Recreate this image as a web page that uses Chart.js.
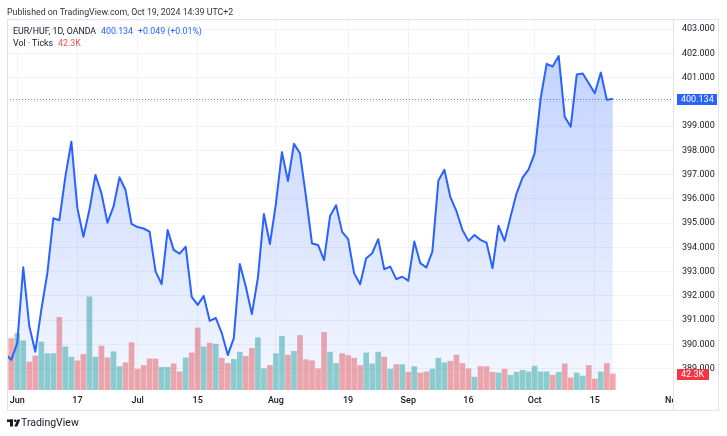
<!DOCTYPE html>
<html>
<head>
<meta charset="utf-8">
<script src="https://cdn.jsdelivr.net/npm/chart.js@4.4.1/dist/chart.umd.min.js"></script>
<style>
  html, body { margin: 0; padding: 0; background: #fff; }
  #wrap { position: relative; width: 727px; height: 436px; font-family: Roboto, "Liberation Sans", sans-serif; }
  #c { position: absolute; left: 0; top: 0; }
  .t { position: absolute; white-space: nowrap; font-size: 8.8px; line-height: 12px; }
</style>
</head>
<body>
<div id="wrap">
  <canvas id="c" width="727" height="436"></canvas>
  <div class="t" style="left:7px;top:6px;color:#333">Published on TradingView.com, Oct 19, 2024 14:39 UTC+2</div>
  <div class="t" style="left:13px;top:25px;color:#131722">EUR/HUF, 1D, OANDA</div>
  <div class="t" style="left:101px;top:25px;color:#2962ff">400.134</div>
  <div class="t" style="left:138px;top:25px;color:#2962ff">+0.049 (+0.01%)</div>
  <div class="t" style="left:13px;top:37px;color:#131722">Vol · Ticks</div>
  <div class="t" style="left:58px;top:37px;color:#ef5350">42.3K</div>
  <div class="t" style="left:21px;top:417px;color:#131722;font-size:10.5px">TradingView</div>
</div>
<script>
// EUR/HUF daily closes, 30 May 2024 -> 18 Oct 2024 (trading days)
const firstDay = '2024-05-30';
const closes = [389.62,
  389.36, 390.05, 393.18, 390.76, 389.70, 391.42, 392.93, 395.20, 395.12, 396.92,
  398.36, 395.62, 394.44, 395.55, 396.99, 396.23, 395.02, 395.68, 396.89, 396.37,
  394.97, 394.84, 394.78, 394.65, 393.00, 392.49, 394.72, 393.90, 393.74, 394.03,
  391.96, 391.63, 392.00, 390.97, 391.09, 390.47, 389.56, 390.26, 393.32, 392.38,
  391.25, 392.74, 395.38, 394.14, 395.82, 397.93, 396.74, 398.27, 397.88, 396.09,
  394.16, 394.10, 393.48, 395.30, 395.74, 394.64, 394.34, 392.93, 392.48, 393.55,
  393.76, 394.34, 393.10, 393.21, 392.69, 392.79, 392.63, 394.24, 393.35, 393.17,
  393.83, 396.75, 397.20, 396.07, 395.50, 394.72, 394.27, 394.51, 394.31, 394.20,
  393.14, 394.89, 394.27, 395.27, 396.23, 396.88, 397.22, 397.88, 400.15, 401.57,
  401.46, 401.89, 399.39, 398.98, 401.13, 401.17, 400.77, 400.36, 401.21, 400.085,
  400.134];

// volume in thousands of ticks
const volumes = [null,
  136, 149, 130, 74, 90, 127, 96, 96, 192, 114,
  87, 77, 94, 246, 87, 116, 85, 101, 62, 72,
  125, 55, 65, 82, 82, 60, 60, 69, 48, 85,
  98, 164, 114, 124, 121, 84, 70, 81, 100, 89,
  110, 138, 56, 65, 96, 142, 92, 102, 144, 80,
  77, 56, 152, 100, 70, 96, 91, 84, 65, 98,
  69, 100, 87, 55, 67, 67, 47, 62, 45, 48,
  55, 84, 72, 76, 92, 70, 56, 34, 62, 62,
  47, 45, 55, 39, 47, 52, 48, 63, 48, 48,
  39, 47, 69, 32, 45, 37, 65, 29, 48, 70,
  42.3];

// u = up bar (green), d = down bar (red)
const volDir = ['d',
  'd','u','u','d','d','u','u','u','d','u',
  'u','d','d','u','u','d','d','u','u','d',
  'd','d','d','d','d','u','u','d','d','u',
  'd','d','u','d','u','d','d','u','u','d',
  'd','u','u','d','u','u','d','u','d','d',
  'd','d','d','u','u','d','d','d','d','u',
  'u','u','d','u','d','u','d','u','d','d',
  'u','u','u','d','d','d','d','u','d','d',
  'd','u','d','u','u','u','u','u','u','u',
  'd','u','d','d','u','u','d','d','u','d',
  'd'];

const tickDates = ['2024-06-03', '2024-06-17', '2024-07-01', '2024-07-15', '2024-08-01', '2024-08-19',
                   '2024-09-02', '2024-09-16', '2024-10-01', '2024-10-15', '2024-11-01'];
const tickText  = ['Jun', '17', 'Jul', '15', 'Aug', '19', 'Sep', '16', 'Oct', '15', 'Nov'];

const lastClose = 400.134;
const lastVol = '42.3K';

// trading day calendar (weekdays)
function tradingDays(start, n) {
  const out = [];
  const d = new Date(start + 'T12:00:00Z');
  while (out.length < n) {
    const wd = d.getUTCDay();
    if (wd !== 0 && wd !== 6) out.push(d.toISOString().slice(0, 10));
    d.setUTCDate(d.getUTCDate() + 1);
  }
  return out;
}
const days = tradingDays(firstDay, 120);
const tickIdx = tickDates.map(s => days.indexOf(s));
const tickLabel = {};
tickIdx.forEach((v, k) => { tickLabel[v] = tickText[k]; });

const FONT = 'Roboto, "Liberation Sans", sans-serif';
Chart.defaults.font.family = FONT;

const green = 'rgba(38,166,154,0.5)';
const red = 'rgba(239,83,80,0.5)';

const overlay = {
  id: 'overlay',
  afterDraw(chart) {
    const c = chart.ctx;
    const a = chart.chartArea;
    const yp = chart.scales.y.getPixelForValue(lastClose);
    c.save();
    // last price dotted line
    c.strokeStyle = 'rgba(41,98,255,0.75)';
    c.lineWidth = 1;
    c.setLineDash([1, 2]);
    c.beginPath();
    c.moveTo(a.left, Math.round(yp) + 0.5);
    c.lineTo(a.right, Math.round(yp) + 0.5);
    c.stroke();
    c.setLineDash([]);
    // price scale covers time labels that run past the pane
    c.fillStyle = '#fff';
    c.fillRect(a.right + 1, a.bottom + 1, 45, 20);
    // frame
    c.strokeStyle = '#e0e3eb';
    c.strokeRect(7.5, 19.5, 711, 391);
    c.beginPath();
    c.moveTo(a.right + 0.5, 19);
    c.lineTo(a.right + 0.5, 411);
    c.stroke();
    // price label
    c.font = '9px ' + FONT;
    c.textBaseline = 'middle';
    c.fillStyle = '#2962ff';
    c.fillRect(677, Math.round(yp) - 5, 40, 11);
    c.fillStyle = '#fff';
    c.fillText(lastClose.toFixed(3), 681, Math.round(yp) + 0.5);
    // volume label
    c.fillStyle = '#f23645';
    c.fillRect(677, 369, 32, 11);
    c.fillStyle = '#fff';
    c.fillText(lastVol, 681, 374.5);
    // TradingView logo
    c.fillStyle = '#131722';
    c.fillRect(7, 419.5, 6, 2.5);
    c.fillRect(10, 419.5, 3, 7);
    c.beginPath();
    c.arc(15.2, 420.8, 1.3, 0, Math.PI * 2);
    c.fill();
    c.beginPath();
    c.moveTo(17.3, 419.5);
    c.lineTo(20.3, 419.5);
    c.lineTo(17.3, 426.5);
    c.lineTo(14.3, 426.5);
    c.closePath();
    c.fill();
    c.restore();
  }
};

const ctx = document.getElementById('c').getContext('2d');
const chart = new Chart(ctx, {
  data: {
    datasets: [
      {
        type: 'line',
        data: closes.map((v, i) => ({ x: i, y: v })),
        yAxisID: 'y',
        borderColor: '#2962ff',
        borderWidth: 2,
        pointRadius: 0,
        tension: 0,
        borderJoinStyle: 'round',
        fill: 'start',
        order: 1,
        backgroundColor(context) {
          const ch = context.chart;
          const area = ch.chartArea;
          if (!area) return 'rgba(41,98,255,0.1)';
          const top = ch.scales.y.getPixelForValue(Math.max(...closes));
          const g = ch.ctx.createLinearGradient(0, top, 0, area.bottom);
          g.addColorStop(0, 'rgba(41,98,255,0.28)');
          g.addColorStop(1, 'rgba(41,98,255,0.05)');
          return g;
        }
      },
      {
        type: 'bar',
        data: volumes.map((v, i) => ({ x: i, y: v })),
        yAxisID: 'yv',
        barThickness: 5,
        order: 2,
        backgroundColor: volDir.map(d => d === 'u' ? green : red)
      }
    ]
  },
  options: {
    responsive: false,
    animation: false,
    layout: { padding: { left: 7, top: 19, right: 8, bottom: 25 } },
    plugins: { legend: { display: false }, tooltip: { enabled: false } },
    scales: {
      x: {
        type: 'linear',
        min: 0.3,
        max: 111,
        offset: false,
        afterFit(s) { s.height = 21; },
        afterBuildTicks(s) { s.ticks = tickIdx.map(v => ({ value: v })); },
        grid: { color: '#f0f3fa', drawTicks: false, offset: false },
        border: { display: false },
        ticks: {
          autoSkip: false,
          maxRotation: 0,
          padding: 5,
          color: '#131722',
          font: { size: 9, weight: '500' },
          callback: v => tickLabel[v]
        }
      },
      y: {
        position: 'right',
        min: 388.12,
        max: 403.42,
        afterFit(s) { s.width = 46; },
        grid: { color: '#f0f3fa', drawTicks: false },
        border: { display: false },
        ticks: {
          stepSize: 1,
          includeBounds: false,
          padding: 9,
          color: '#131722',
          font: { size: 9 },
          callback: v => v.toFixed(3)
        }
      },
      yv: { display: false, min: 0, max: 980 }
    }
  },
  plugins: [overlay]
});
</script>
</body>
</html>
